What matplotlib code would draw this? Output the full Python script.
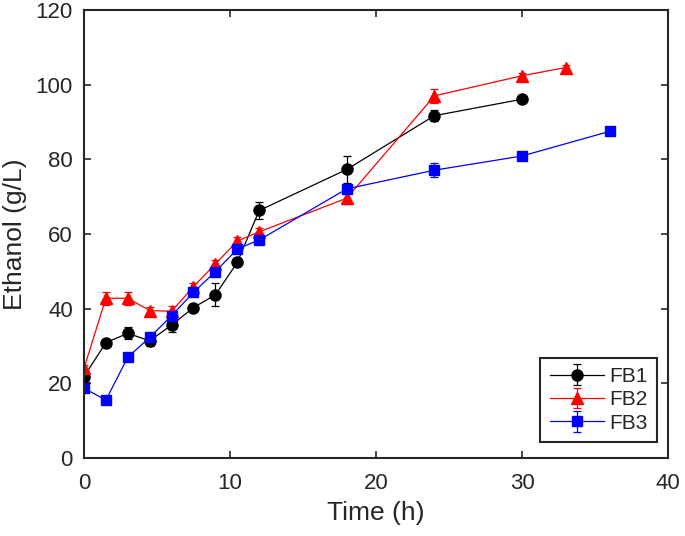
import matplotlib
matplotlib.use('Agg')
import matplotlib.pyplot as plt

# Data
t_fb1 = [0, 1.5, 3, 4.5, 6, 7.5, 9, 10.5, 12, 18, 24, 30]
fb1 = [21.8, 30.9, 33.4, 31.4, 35.6, 40.3, 43.7, 52.4, 66.3, 77.3, 91.7, 96.1]
fb1_err = [1, 0.6, 1.6, 1.3, 1.9, 0.6, 3.1, 0.6, 2.2, 3.6, 1.5, 0.6]

t_fb2 = [0, 1.5, 3, 4.5, 6, 7.5, 9, 10.5, 12, 18, 24, 30, 33]
fb2 = [24.0, 42.8, 42.8, 39.5, 39.3, 45.9, 52.0, 58.1, 60.6, 69.6, 97.0, 102.4, 104.6]
fb2_err = [1, 1.7, 1.7, 1, 1.5, 1, 1, 1, 1, 1.5, 1.8, 0.7, 0.7]

t_fb3 = [0, 1.5, 3, 4.5, 6, 7.5, 9, 10.5, 12, 18, 24, 30, 36]
fb3 = [18.7, 15.5, 27.0, 32.3, 38.1, 44.4, 49.9, 56.0, 58.4, 72.1, 77.1, 80.9, 87.5]
fb3_err = [1, 1, 1, 0.8, 1, 0.8, 1, 0.8, 1, 1, 1.9, 0.8, 0.8]

dark = '#262626'
plt.rcParams.update({
    'font.family': ['Liberation Sans', 'DejaVu Sans'],
    'text.color': dark,
    'axes.labelcolor': dark,
    'xtick.color': dark,
    'ytick.color': dark,
})

fig = plt.figure(figsize=(6.85, 5.36), dpi=100)
ax = fig.add_axes([0.1226, 0.1455, 0.8526, 0.8358])

common = dict(linewidth=0.9, capsize=3, elinewidth=0.9, capthick=0.9)
ax.errorbar(t_fb1, fb1, yerr=fb1_err, color='black', marker='o', markersize=8,
            label='FB1', **common)
ax.errorbar(t_fb2, fb2, yerr=fb2_err, color='red', marker='^', markersize=8.5,
            label='FB2', **common)
ax.errorbar(t_fb3, fb3, yerr=fb3_err, color='blue', marker='s', markersize=6.5,
            label='FB3', **common)

ax.set_xlim(0, 40)
ax.set_ylim(0, 120)
ax.set_xticks([0, 10, 20, 30, 40])
ax.set_yticks([0, 20, 40, 60, 80, 100, 120])
ax.tick_params(direction='in', top=True, right=True, length=5, width=1.2,
               labelsize=16)
ax.tick_params(axis='y', pad=8)
ax.tick_params(axis='x', pad=11)
for s in ax.spines.values():
    s.set_linewidth(1.5)
    s.set_color(dark)
ax.set_xlabel('Time (h)', fontsize=19, labelpad=5)
ax.set_ylabel('Ethanol (g/L)', fontsize=19, labelpad=6)

leg = ax.legend(loc='lower right', bbox_to_anchor=(0.981, 0.036),
                borderaxespad=0, fontsize=15, fancybox=False, framealpha=1,
                edgecolor=dark, handlelength=2.6, borderpad=0.45,
                labelspacing=0.2, handletextpad=0.25)
leg.get_frame().set_linewidth(1.5)

fig.savefig('out.png', dpi=100)
